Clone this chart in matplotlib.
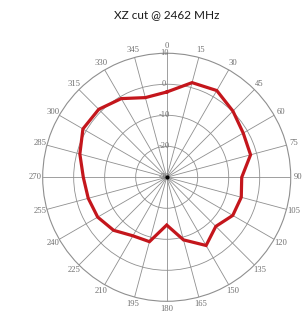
import numpy as np
import matplotlib
matplotlib.use('Agg')
import matplotlib.pyplot as plt
from matplotlib.transforms import offset_copy

# XZ cut pattern, gain in dB every 15 degrees
angles_deg = [0, 15, 30, 45, 60, 75, 90, 105, 120, 135, 150, 165,
              180, 195, 210, 225, 240, 255, 270, 285, 300, 315, 330, 345]
gain_db = [-2.5, 1.6, 2.3, 0.2, -1.5, -2.0, -5.8, -5.1, -5.4, -7.6, -4.6, -9.1,
           -14.6, -8.5, -8.2, -5.8, -4.3, -3.8, -3.1, -1.0, 1.2, 1.0, -0.7, -3.4]
ring_levels = [-30, -20, -10, 0, 10]
title = 'XZ cut @ 2462 MHz'

grid_col = '#8f8f8f'
lbl_col = '#707070'

fig = plt.figure(figsize=(3.07, 3.12), dpi=100)
ax = fig.add_axes([0.139, 0.0343, 0.808, 0.795], projection='polar')
ax.set_theta_zero_location('N')
ax.set_theta_direction(-1)
ax.set_ylim(-30, 10)

th = np.deg2rad(angles_deg + [angles_deg[0]])
r = gain_db + [gain_db[0]]
ax.plot(th, r, color='#c4161c', lw=2.3, solid_joinstyle='miter', zorder=5)

# grid
ax.set_thetagrids(angles_deg, labels=[''] * len(angles_deg))
ax.set_rgrids(ring_levels[1:-1], labels=[''] * 3)
ax.grid(True, color=grid_col, lw=0.6)
ax.spines['polar'].set_color(grid_col)
ax.spines['polar'].set_linewidth(0.8)
ax.tick_params(length=0)

for a in angles_deg:
    ax.text(np.deg2rad(a), 12.4, str(a), ha='center', va='center',
            fontsize=6.2, family='Liberation Serif', color=lbl_col, clip_on=False)

shift = offset_copy(ax.transData, fig=fig, x=-2.5, y=0, units='dots')
for lv in ring_levels:
    ax.text(0, lv, str(lv), ha='center', va='center', fontsize=6,
            family='Liberation Serif', color=lbl_col, zorder=4,
            transform=shift)

ax.plot([0], [-30], 'o', color='black', ms=2.0, zorder=6)

fig.text(0.544, 0.952, title, ha='center', va='center', fontsize=8.5,
         family='Lato', color='#1a1a1a')

fig.savefig('out.png', dpi=100)
